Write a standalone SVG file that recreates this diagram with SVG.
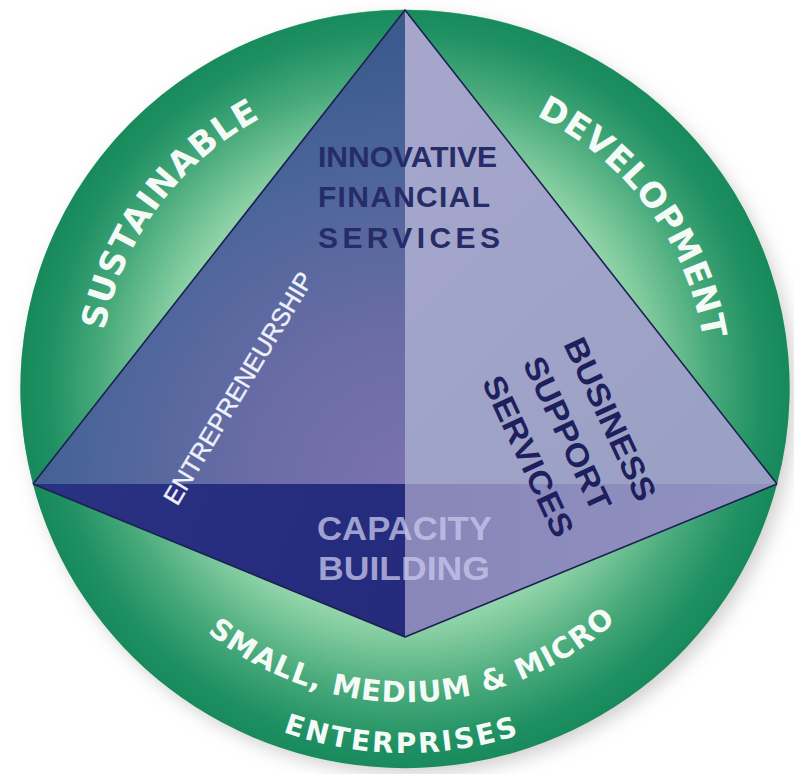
<svg xmlns="http://www.w3.org/2000/svg" width="794" height="774" viewBox="0 0 794 774">
<style>
.ring{font-family:"DejaVu Sans","Verdana",sans-serif;font-weight:bold;fill:#f4fbf6;}
.dark{font-family:"Liberation Sans","Arial",sans-serif;font-weight:bold;fill:#262c68;}
.biz{font-family:"Liberation Sans","Arial",sans-serif;font-weight:bold;fill:#1e205e;}
.cap{font-family:"Liberation Sans","Arial",sans-serif;font-weight:bold;fill:#c8c8ec;fill-opacity:0.75;}
.ent{font-family:"Liberation Sans","Arial",sans-serif;fill:#eef0fa;stroke:#eef0fa;stroke-width:0.4;}
.edge{fill:none;stroke:#1b2150;stroke-width:1.6;stroke-linejoin:round;}
</style>
<defs>
<filter id="blur" x="-15%" y="-15%" width="130%" height="130%"><feGaussianBlur stdDeviation="9"/></filter>
<radialGradient id="green" gradientUnits="userSpaceOnUse" cx="405" cy="388" r="384">
<stop offset="0.55" stop-color="#a6dfbb"/>
<stop offset="0.64" stop-color="#86cea2"/>
<stop offset="0.8" stop-color="#47a97a"/>
<stop offset="0.93" stop-color="#1f9063"/>
<stop offset="1" stop-color="#17895b"/>
</radialGradient>
<radialGradient id="ul" gradientUnits="userSpaceOnUse" cx="405" cy="484" r="440">
<stop offset="0" stop-color="#7a72ae"/>
<stop offset="0.35" stop-color="#6a6ca6"/>
<stop offset="0.72" stop-color="#4b659a"/>
<stop offset="1" stop-color="#3b5a8e"/>
</radialGradient>
<linearGradient id="ur" gradientUnits="userSpaceOnUse" x1="405" y1="100" x2="777" y2="484">
<stop offset="0" stop-color="#a6a6cc"/>
<stop offset="1" stop-color="#98a0c3"/>
</linearGradient>
<linearGradient id="ll" gradientUnits="userSpaceOnUse" x1="33" y1="484" x2="405" y2="637">
<stop offset="0" stop-color="#2a3282"/>
<stop offset="1" stop-color="#252a7c"/>
</linearGradient>
<linearGradient id="lr" gradientUnits="userSpaceOnUse" x1="405" y1="484" x2="777" y2="484">
<stop offset="0" stop-color="#8986ba"/>
<stop offset="1" stop-color="#9092c0"/>
</linearGradient>
<path id="pSus" d="M 99.6 407.7 A 306 306 0 0 1 332.5 90.7"/>
<path id="pDev" d="M 474.2 94.0 A 302 302 0 0 1 706.5 405.1"/>
<path id="pSme" d="M 137.2 552.4 A 314 314 0 0 0 681.1 537.6"/>
<path id="pEnt" d="M 166.8 664.5 A 365 365 0 0 0 636.3 670.4"/>
</defs>

<ellipse cx="411" cy="396" rx="384" ry="378" fill="#9a9496" fill-opacity="0.45" filter="url(#blur)"/>
<ellipse cx="405" cy="388" rx="384" ry="378" fill="#17895b" stroke="#78c9a0" stroke-width="1.2"/>

<g id="sustainable">
<path d="M 405 10 A 384 378 0 0 0 33 484 Z" fill="url(#green)"/>
<text class="ring" font-size="34"><textPath href="#pSus" startOffset="50%" text-anchor="middle" textLength="272" lengthAdjust="spacing">SUSTAINABLE</textPath></text>
</g>
<g id="development">
<path d="M 405 10 A 384 378 0 0 1 777 484 Z" fill="url(#green)"/>
<text class="ring" font-size="34"><textPath href="#pDev" startOffset="50%" text-anchor="middle" textLength="290" lengthAdjust="spacing">DEVELOPMENT</textPath></text>
</g>
<g id="enterprises">
<path d="M 33 484 A 384 378 0 0 0 777 484 L 405 637 Z" fill="url(#green)"/>
<text class="ring" font-size="29"><textPath href="#pSme" startOffset="50%" text-anchor="middle" textLength="445" lengthAdjust="spacing">SMALL, MEDIUM &amp; MICRO</textPath></text>
<text class="ring" font-size="28"><textPath href="#pEnt" startOffset="50%" text-anchor="middle" textLength="240" lengthAdjust="spacing">ENTERPRISES</textPath></text>
</g>

<g id="capacity-building">
<polygon points="33,484 405,484 405,637" fill="url(#ll)"/>
<polygon points="405,484 777,484 405,637" fill="url(#lr)"/>
<text class="cap" font-size="34" x="317" y="540" textLength="175" lengthAdjust="spacingAndGlyphs">CAPACITY</text>
<text class="cap" font-size="34" x="318" y="580" textLength="172" lengthAdjust="spacingAndGlyphs">BUILDING</text>
</g>
<g id="entrepreneurship">
<polygon points="405,10 33,484 405,484" fill="url(#ul)"/>
<text class="ent" font-size="25" transform="translate(238,388) rotate(-59)" x="0" y="9" text-anchor="middle" textLength="266" lengthAdjust="spacingAndGlyphs">ENTREPRENEURSHIP</text>
</g>
<g id="business-support">
<polygon points="405,10 405,484 777,484" fill="url(#ur)"/>
<g transform="translate(563,344) rotate(65)">
<text class="biz" font-size="32" x="0" y="0" textLength="176" lengthAdjust="spacingAndGlyphs">BUSINESS</text>
<text class="biz" font-size="32" x="0" y="45" textLength="166" lengthAdjust="spacingAndGlyphs">SUPPORT</text>
<text class="biz" font-size="32" x="0" y="90" textLength="174" lengthAdjust="spacingAndGlyphs">SERVICES</text>
</g>
</g>
<g id="innovative-financial">
<text class="dark" font-size="30" x="318" y="167" textLength="179" lengthAdjust="spacingAndGlyphs">INNOVATIVE</text>
<text class="dark" font-size="30" x="318" y="207" textLength="172" lengthAdjust="spacing">FINANCIAL</text>
<text class="dark" font-size="30" x="318" y="248" textLength="182" lengthAdjust="spacing">SERVICES</text>
</g>

<g id="connectors">
<polyline class="edge" points="33,484 405,10 777,484"/>
<polyline class="edge" points="33,484 405,637 777,484"/>
</g>
</svg>
